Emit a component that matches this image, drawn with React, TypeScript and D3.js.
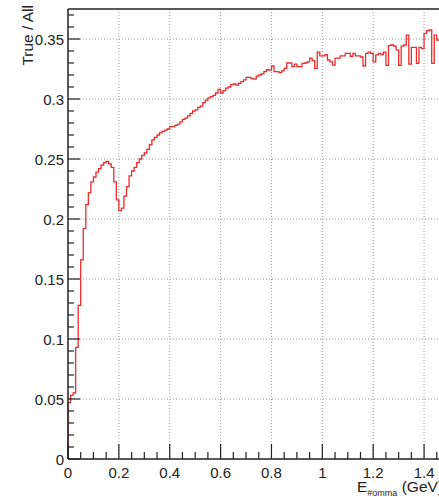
import React from "react";
import * as d3 from "d3";

// Histogram: True / All vs E_gamma, uniform bins of width 0.01 GeV starting at 0
const BIN_WIDTH = 0.01;
const binValues: number[] = [
  0.047, 0.053, 0.055, 0.093, 0.128, 0.166, 0.192, 0.212, 0.222, 0.231,
  0.235, 0.239, 0.242, 0.245, 0.247, 0.248, 0.246, 0.243, 0.231, 0.216,
  0.207, 0.209, 0.219, 0.227, 0.236, 0.240, 0.243, 0.247, 0.250, 0.253,
  0.255, 0.258, 0.262, 0.266, 0.268, 0.270, 0.272, 0.273, 0.274, 0.275,
  0.277, 0.277, 0.278, 0.279, 0.281, 0.283, 0.284, 0.286, 0.288, 0.290,
  0.291, 0.293, 0.294, 0.297, 0.299, 0.301, 0.302, 0.303, 0.305, 0.308,
  0.305, 0.307, 0.309, 0.310, 0.312, 0.3125, 0.3115, 0.313, 0.3145, 0.316,
  0.318, 0.318, 0.317, 0.3165, 0.319, 0.320, 0.321, 0.3228, 0.3245, 0.324,
  0.3275, 0.3228, 0.3228, 0.322, 0.3235, 0.3256, 0.330, 0.330, 0.327, 0.329,
  0.327, 0.327, 0.3297, 0.330, 0.331, 0.334, 0.332, 0.3256, 0.339, 0.336,
  0.336, 0.337, 0.3325, 0.331, 0.3283, 0.334, 0.334, 0.336, 0.336, 0.338,
  0.338, 0.3356, 0.338, 0.336, 0.336, 0.335, 0.3275, 0.338, 0.339, 0.338,
  0.331, 0.3367, 0.338, 0.337, 0.339, 0.328, 0.3444, 0.345, 0.344, 0.341,
  0.328, 0.344, 0.345, 0.3533, 0.329, 0.343, 0.3431, 0.3297, 0.343, 0.342,
  0.3547, 0.3569, 0.3575, 0.3297, 0.3533, 0.349, 0.350, 0.352, 0.345, 0.350,
];

const xMajorTicks = [0, 0.2, 0.4, 0.6, 0.8, 1, 1.2, 1.4];
const xTickLabels = ["0", "0.2", "0.4", "0.6", "0.8", "1", "1.2", "1.4"];
const yMajorTicks = [0, 0.05, 0.1, 0.15, 0.2, 0.25, 0.3, 0.35];
const yTickLabels = ["0", "0.05", "0.1", "0.15", "0.2", "0.25", "0.3", "0.35"];
const xMinorStep = 0.05;
const yMinorStep = 0.01;

const W = 439;
const H = 497;
const left = 68;
const right = 449.5;
const top = 9;
const bottom = 459;

export default function App() {
  const x = d3.scaleLinear().domain([0, 1.5]).range([left, right]);
  const y = d3.scaleLinear().domain([0, 0.375]).range([bottom, top]);

  const xMinor = d3.range(0, 1.5 + 1e-9, xMinorStep);
  const yMinor = d3.range(0, 0.375 + 1e-9, yMinorStep);

  // step path
  let d = `M${x(0)},${y(0)}`;
  binValues.forEach((v, i) => {
    const x0 = x(i * BIN_WIDTH);
    const x1 = x((i + 1) * BIN_WIDTH);
    d += `L${x0},${y(v)}L${x1},${y(v)}`;
  });

  const font = "'Liberation Sans', Arial, Helvetica, sans-serif";

  return (
    <svg
      width={W}
      height={H}
      style={{ position: "absolute", left: 0, top: 0, background: "#fff" }}
      fontFamily={font}
    >
      <rect x={0} y={0} width={W} height={H} fill="#fff" />
      {/* grid */}
      <g stroke="#9a9a9a" strokeWidth={1} strokeDasharray="1 2">
        {xMajorTicks.filter((t) => t > 0).map((t) => (
          <line key={"gx" + t} x1={x(t)} x2={x(t)} y1={top} y2={bottom} />
        ))}
        {yMajorTicks.filter((t) => t > 0).map((t) => (
          <line key={"gy" + t} x1={left} x2={right} y1={y(t)} y2={y(t)} />
        ))}
      </g>
      {/* histogram */}
      <path d={d} fill="none" stroke="#ee2b2b" strokeWidth={1.3} />
      {/* frame */}
      <g stroke="#222" strokeWidth={1.5} fill="none">
        <line x1={left} x2={right} y1={top} y2={top} />
        <line x1={left} x2={left} y1={top} y2={bottom} />
        <line x1={left} x2={right} y1={bottom} y2={bottom} />
      </g>
      {/* ticks */}
      <g stroke="#222" strokeWidth={1.2}>
        {xMinor.map((t, i) => {
          const isMajor = xMajorTicks.some((m) => Math.abs(m - t) < 1e-6);
          return (
            <line key={"xt" + i} x1={x(t)} x2={x(t)} y1={bottom} y2={bottom - (isMajor ? 15 : 7)} />
          );
        })}
        {yMinor.map((t, i) => {
          const isMajor = yMajorTicks.some((m) => Math.abs(m - t) < 1e-6);
          return (
            <line key={"yt" + i} x1={left} x2={left + (isMajor ? 12 : 6)} y1={y(t)} y2={y(t)} />
          );
        })}
      </g>
      {/* tick labels */}
      <g fill="#222" fontSize={15}>
        {xMajorTicks.map((t, i) => (
          <text key={"xl" + i} x={x(t)} y={478} textAnchor="middle">
            {xTickLabels[i]}
          </text>
        ))}
        {yMajorTicks.map((t, i) => (
          <text key={"yl" + i} x={64} y={y(t) + 5.5} textAnchor="end">
            {yTickLabels[i]}
          </text>
        ))}
      </g>
      {/* axis titles */}
      <text
        transform="translate(33,5) rotate(-90)"
        textAnchor="end"
        fontSize={15.5}
        fill="#222"
      >
        True / All
      </text>
      <text x={357} y={492} fontSize={15.5} fill="#222">
        E
        <tspan dy={3.5} fontSize={9}>#omma</tspan>
        <tspan dy={-3.5}> (GeV)</tspan>
      </text>
    </svg>
  );
}
